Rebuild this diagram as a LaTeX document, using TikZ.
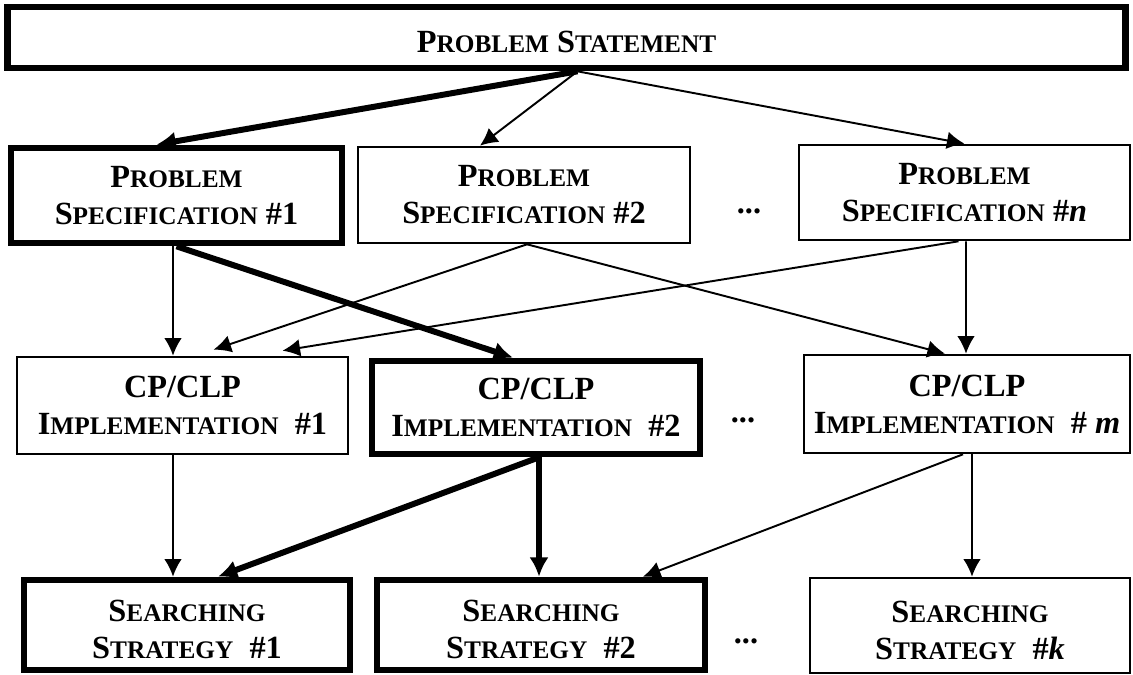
\documentclass[tikz,border=0pt]{standalone}
\usepackage{fontspec}
\setmainfont{Liberation Serif}
\usetikzlibrary{arrows.meta,calc}
\newcommand{\sm}[1]{{\fontsize{14.4}{21}\selectfont #1}}
\newcommand{\dropline}{\rule{0pt}{17.5pt}}

\begin{document}
\begin{tikzpicture}[x=0.02cm,y=-0.02cm,
	box/.style={draw,line width=1.5pt,inner sep=0pt,align=center,font=\fontsize{18.4}{21}\selectfont\bfseries},
	boxthick/.style={box,line width=3.8pt},
	boxsize/.style 2 args={minimum width=#1*0.02cm,minimum height=#2*0.02cm},
	conn/.style={line width=1.1pt,-{Latex[length=10pt,width=10pt]}},
	connthick/.style={line width=3.4pt,-{Latex[length=11pt,width=11pt]}},
	dots/.style={inner sep=0pt,font=\fontsize{18.4}{21}\selectfont\bfseries}]
			\useasboundingbox (0,0) rectangle (1133,675);

			\node[boxthick,boxsize={1118}{61}] (stmt) at (566.5, 37.5) {\dropline P\sm{ROBLEM} S\sm{TATEMENT}};

			\node[boxthick,boxsize={331}{95}] (spec1) at (176.5, 195.5) {P\sm{ROBLEM}\\S\sm{PECIFICATION} \#1};
			\node[box,boxsize={332}{96}] (spec2) at (524, 195) {P\sm{ROBLEM}\\S\sm{PECIFICATION} \#2};
			\node[box,boxsize={331}{95}] (specn) at (964.5, 192.5) {P\sm{ROBLEM}\\S\sm{PECIFICATION} \#\textit{n}};

			\node[box,boxsize={331}{97}] (impl1) at (182.5, 405.5) {CP/CLP\\I\sm{MPLEMENTATION}\enspace\#1};
			\node[boxthick,boxsize={328}{93}] (impl2) at (536, 407.5) {CP/CLP\\I\sm{MPLEMENTATION}\enspace\#2};
			\node[box,boxsize={326}{98}] (implm) at (967, 404) {CP/CLP\\I\sm{MPLEMENTATION}\enspace\# \textit{m}};

			\node[boxthick,boxsize={326}{90}] (search1) at (187, 625) {\dropline S\sm{EARCHING}\\S\sm{TRATEGY}\enspace\#1};
			\node[boxthick,boxsize={328}{90}] (search2) at (541, 625) {\dropline S\sm{EARCHING}\\S\sm{TRATEGY}\enspace\#2};
			\node[box,boxsize={320}{95}] (searchk) at (970, 625.5) {\dropline S\sm{EARCHING}\\S\sm{TRATEGY}\enspace\#\textit{k}};

			\node[dots] (dotsspec) at (749, 211) {...};
			\node[dots] (dotsimpl) at (743, 420) {...};
			\node[dots] (dotssearch) at (746, 641) {...};

			% statement -> specifications
			\draw[connthick] ($(stmt.south)+(11,0)$) -- ($(spec1.north)+(-20,0)$);
			\draw[conn] ($(stmt.south)+(11,0)$) -- ($(spec2.north)+(-44,0)$);
			\draw[conn] ($(stmt.south)+(11,0)$) -- (specn.north);

			% specifications -> implementations
			\draw[conn] ($(spec1.south)+(-3.5,0)$) -- ($(impl1.north)+(-9.5,0)$);
			\draw[connthick] (spec1.south) -- ($(impl2.north)+(-23,0)$);
			\draw[conn] ($(spec2.south)+(3,0)$) -- ($(impl1.north)+(31,-6)$);
			\draw[conn] ($(spec2.south)+(3,0)$) -- ($(implm.north)+(-22,0)$);
			\draw[conn] ($(specn.south)+(-6,0)$) -- ($(impl1.north)+(100,-5)$);
			\draw[conn] ($(specn.south)+(1.5,0)$) -- ($(implm.north)+(-1,0)$);

			% implementations -> searching strategies
			\draw[conn] ($(impl1.south)+(-9.5,0)$) -- ($(search1.north)+(-14,0)$);
			\draw[connthick] ($(impl2.south)+(3,0)$) -- ($(search1.north)+(31,0)$);
			\draw[connthick] ($(impl2.south)+(3,0)$) -- ($(search2.north)+(-2,0)$);
			\draw[conn] ($(implm.south)+(-4,0)$) -- ($(search2.north)+(102,0)$);
			\draw[conn] ($(implm.south)+(5,0)$) -- ($(searchk.north)+(2,0)$);
		\end{tikzpicture}
\end{document}
